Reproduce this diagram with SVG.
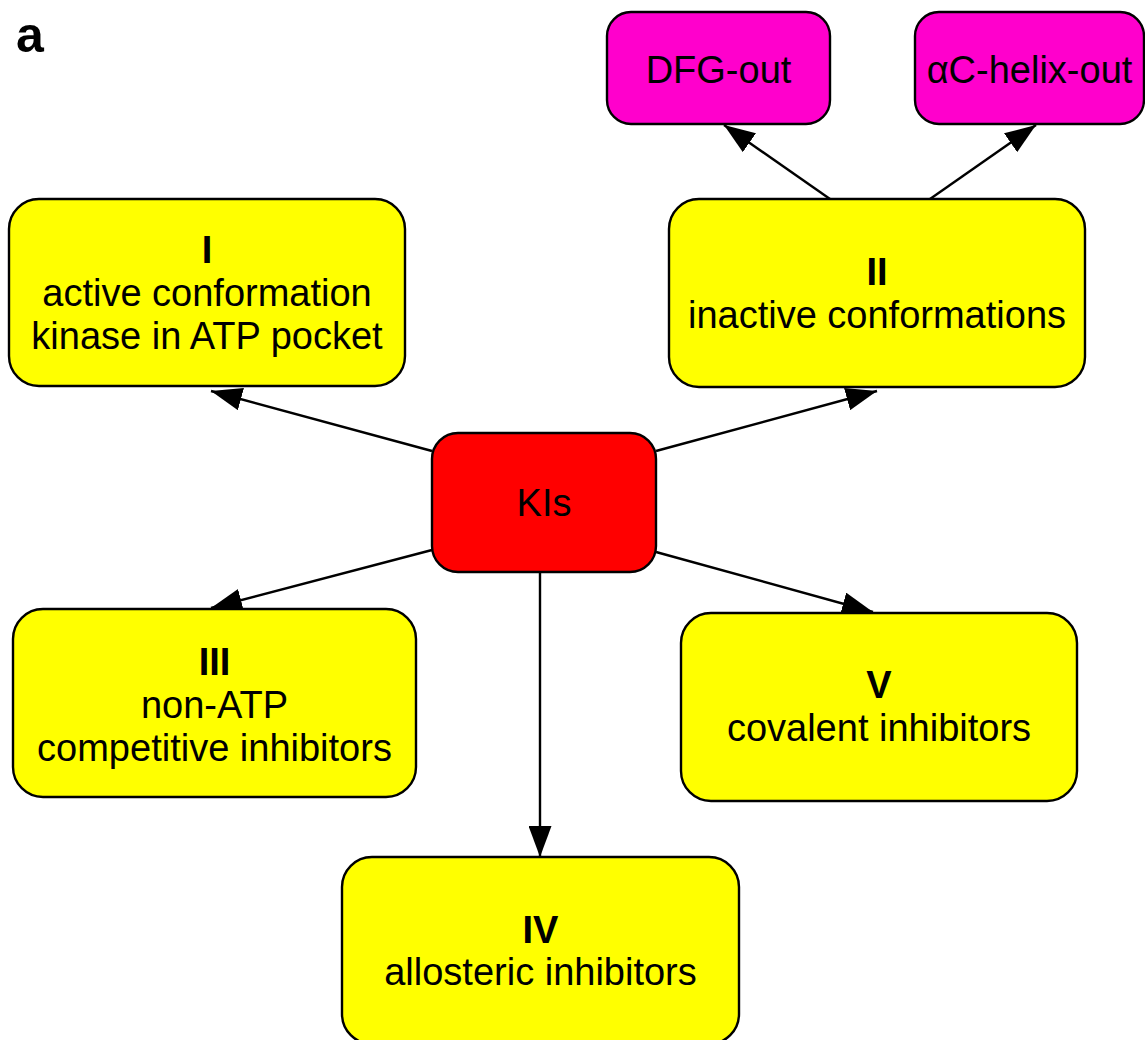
<svg xmlns="http://www.w3.org/2000/svg" width="1145" height="1040" viewBox="0 0 1145 1040">
<defs>
<style>
.box{stroke:#000;stroke-width:2.4}
.y{fill:#ffff00}
.m{fill:#ff00cc}
.r{fill:#ff0000}
text{font-family:"Liberation Sans",Arial,sans-serif;font-size:38px;fill:#000;text-anchor:middle}
.b{font-weight:bold}
.edge{stroke:#000;stroke-width:2.4;fill:none;marker-end:url(#ah)}
</style>
<marker id="ah" markerUnits="userSpaceOnUse" markerWidth="31" markerHeight="23" viewBox="0 0 31 23" refX="31" refY="11.5" orient="auto">
<path d="M0,0 L31,11.5 L0,23 z" fill="#000"/>
</marker>
</defs>
<rect width="1145" height="1040" fill="#fff"/>
<text x="30" y="52" class="b" style="font-size:50px">a</text>
<g id="connectors">
<line class="edge" x1="432" y1="451" x2="211" y2="391"/>
<line class="edge" x1="656" y1="451" x2="877" y2="391"/>
<line class="edge" x1="432" y1="550" x2="211" y2="608"/>
<line class="edge" x1="656" y1="552" x2="873" y2="612"/>
<line class="edge" x1="540" y1="572" x2="540" y2="857"/>
<line class="edge" x1="830" y1="199" x2="724" y2="125"/>
<line class="edge" x1="930" y1="199" x2="1036" y2="125"/>
</g>
<g id="node-DFG">
<rect class="box m" x="607" y="12" width="223" height="112" rx="24"/>
<text x="718.5" y="83">DFG-out</text>
</g>
<g id="node-aC">
<rect class="box m" x="915" y="12" width="229" height="112" rx="24"/>
<text x="1029.5" y="83">αC-helix-out</text>
</g>
<g id="node-I">
<rect class="box y" x="9" y="199" width="396" height="187" rx="30"/>
<text x="207" y="263" class="b">I</text>
<text x="207" y="306">active conformation</text>
<text x="207" y="349">kinase in ATP pocket</text>
</g>
<g id="node-II">
<rect class="box y" x="669" y="199" width="416" height="188" rx="30"/>
<text x="877" y="285" class="b">II</text>
<text x="877" y="328">inactive conformations</text>
</g>
<g id="node-KIs">
<rect class="box r" x="432" y="433" width="224" height="139" rx="26"/>
<text x="544" y="516">KIs</text>
</g>
<g id="node-III">
<rect class="box y" x="13" y="609" width="403" height="188" rx="30"/>
<text x="214.5" y="675" class="b">III</text>
<text x="214.5" y="718">non-ATP</text>
<text x="214.5" y="761">competitive inhibitors</text>
</g>
<g id="node-V">
<rect class="box y" x="681" y="613" width="396" height="188" rx="30"/>
<text x="879" y="698" class="b">V</text>
<text x="879" y="741">covalent inhibitors</text>
</g>
<g id="node-IV">
<rect class="box y" x="342" y="857" width="397" height="187" rx="30"/>
<text x="540.5" y="943" class="b">IV</text>
<text x="540.5" y="985">allosteric inhibitors</text>
</g>
</svg>
